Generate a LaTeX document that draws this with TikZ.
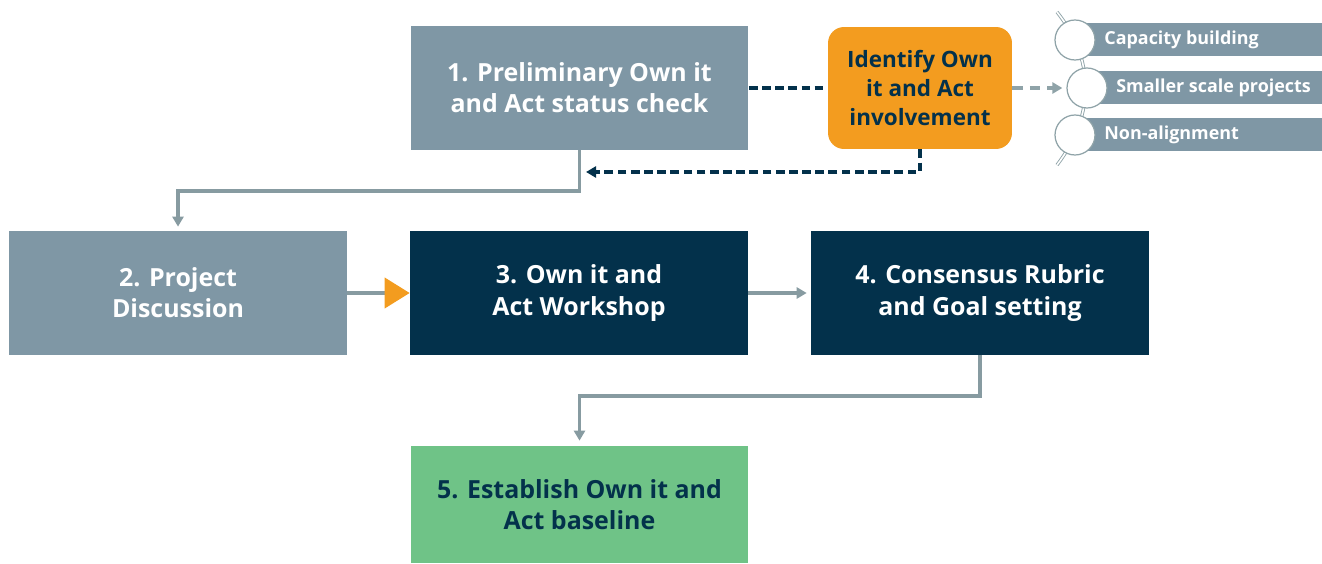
\documentclass[tikz,border=0pt]{standalone}
\usepackage{fontspec}
\setmainfont{Open Sans}
\usetikzlibrary{arrows.meta}
\definecolor{slate}{HTML}{7F97A5}
\definecolor{navy}{HTML}{03314B}
\definecolor{amber}{HTML}{F39C1F}
\definecolor{leaf}{HTML}{6FC387}
\definecolor{wire}{HTML}{879BA1}
\definecolor{ring}{HTML}{8FA3A8}
\begin{document}
\begin{tikzpicture}[x=0.02cm, y=-0.02cm,
  stage/.style={minimum width=6.76cm, minimum height=2.48cm, inner sep=0pt, align=center,
    font=\fontsize{14.2}{17.8}\selectfont\bfseries},
  flow/.style={draw=wire, line width=2.2pt, -{Triangle[width=0.22cm, length=0.2cm]}},
  feedback/.style={draw=navy, line width=2.2pt, dash pattern=on 5pt off 2.5pt},
  item/.style={anchor=west, text=white, inner sep=0pt, font=\fontsize{10.2}{12}\selectfont\bfseries},
  dot/.style={circle, draw=ring, fill=white, line width=0.7pt, minimum size=0.8cm, inner sep=0pt}]
  \useasboundingbox (0,0) rectangle (1322,564);
  % The stages
  \node[stage, fill=slate, text=white] (prelim) at (579.5,88) {1. Preliminary Own it\\and Act status check};
  \node[stage, fill=amber, text=navy, rounded corners=0.32cm, minimum width=3.68cm, minimum height=2.44cm,
    font=\fontsize{12.8}{16.5}\selectfont\bfseries] (identify) at (920,88) {Identify Own\\it and Act\\involvement};
  \node[stage, fill=slate, text=white] (discuss) at (178,293) {2. Project\\Discussion};
  \node[stage, fill=navy, text=white] (workshop) at (579,293) {3. Own it and\\Act Workshop};
  \node[stage, fill=navy, text=white] (rubric) at (980,293) {4. Consensus Rubric\\and Goal setting};
  \node[stage, fill=leaf, text=navy, minimum height=2.34cm] (baseline) at (579.5,504.5) {5. Establish Own it and\\Act baseline};
  % The options list
  \foreach \i/\cx/\cy in {1/1075/40, 2/1087/88, 3/1075/135}
    \fill[slate] (\cx,\cy-16.5) rectangle (1322,\cy+16.5);
  \draw[ring, line width=0.5pt, double=white, double distance=0.9pt] (1057,12) .. controls (1095,60) and (1095,115) .. (1057,165);
  \foreach \i/\cx/\cy/\txt in {1/1075/40/Capacity building, 2/1087/88/Smaller scale projects, 3/1075/135/Non-alignment}
  {
    \node[dot] (dot\i) at (\cx,\cy) {};
    \node[item] (item\i) at (\cx+29,\cy) {\txt};
  }
  % Connections between the stages
  \draw[flow, shorten >=0.08cm] (prelim.south) -- ++(0,41) -| (discuss.north);
  \draw[draw=wire, line width=2.2pt, -{Triangle[width=0.6cm, length=0.5cm, color=amber]}] (discuss.east) -- (workshop.west);
  \draw[flow, shorten >=0.08cm] (workshop.east) -- (rubric.west);
  \draw[flow, shorten >=0.1cm] (rubric.south) -- ++(0,41) -| (baseline.north);
  % The check loop
  \coordinate (back) at (586,172);
  \draw[feedback] (prelim.east) -- (identify.west);
  \draw[feedback, -{Triangle[width=0.22cm, length=0.2cm]}] (identify.south) |- (back);
  \draw[draw=ring, line width=2.2pt, dash pattern=on 6pt off 4pt, shorten >=0.08cm,
    -{Triangle[width=0.22cm, length=0.2cm]}] (identify.east) -- (dot2.west);
\end{tikzpicture}
\end{document}
